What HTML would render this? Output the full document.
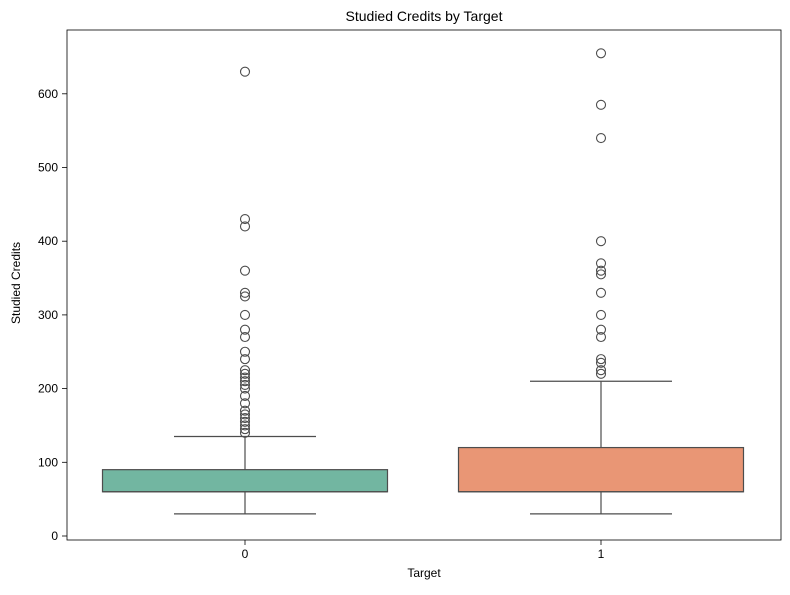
<!DOCTYPE html>
<html><head><meta charset="utf-8"><style>
body{margin:0;background:#fff;font-family:"Liberation Sans","DejaVu Sans",sans-serif}
</style></head><body>
<svg id="chart" width="790" height="590" xmlns="http://www.w3.org/2000/svg">
<text x="424" y="21" text-anchor="middle" font-size="14">Studied Credits by Target</text>
<text x="424" y="577" text-anchor="middle" font-size="12">Target</text>
<text transform="translate(20,283) rotate(-90)" text-anchor="middle" font-size="12">Studied Credits</text>
<rect x="67" y="30" width="714" height="510" fill="none" stroke="#000" stroke-width="0.8"/>
<g id="marks"></g>
</svg>
<script>
const categories=["0","1"];
const colors=["#72b6a1","#e99675"];
const q1=[60,60];
const medians=[60,60];
const q3=[90,120];
const whiskLow=[30,30];
const whiskHigh=[135,210];
const outliers0=[630,430,420,360,330,325,300,280,270,250,240,225,220,215,210,205,200,190,180,170,165,160,155,150,145,140];
const outliers1=[655,585,540,400,370,360,355,330,300,280,270,240,235,225,220];
const outliers=[outliers0,outliers1];
const yTicks=[0,100,200,300,400,500,600];

const NS="http://www.w3.org/2000/svg";
const g=document.getElementById('marks');
function y(v){return 536-0.737*v;}
function xc(i){return 245+i*356;}
const halfW=142.5;
function mk(tag,attrs,parent){const e=document.createElementNS(NS,tag);for(const k in attrs)e.setAttribute(k,attrs[k]);(parent||g).appendChild(e);return e;}
yTicks.forEach(t=>{
  const l=mk('line',{x1:62,x2:67,y1:y(t),y2:y(t),stroke:'#000','stroke-width':0.8});
  
  
  const tx=mk('text',{x:58,y:y(t)+4,'text-anchor':'end','font-size':12});
  tx.textContent=t;
  
  
});
categories.forEach((c,i)=>{
  const cx=xc(i);
  const l=mk('line',{x1:cx,x2:cx,y1:540,y2:545,stroke:'#000','stroke-width':0.8});
  
  
  const tx=mk('text',{x:cx,y:558,'text-anchor':'middle','font-size':12});
  tx.textContent=c;
  
  
  const st={stroke:'#4d4d4d','stroke-width':1.2};
  const w1=mk('line',Object.assign({x1:cx,x2:cx,y1:y(whiskLow[i]),y2:y(q1[i])},st));
  
  
  const w2=mk('line',Object.assign({x1:cx,x2:cx,y1:y(q3[i]),y2:y(whiskHigh[i])},st));
  
  
  const c1=mk('line',Object.assign({x1:cx-71,x2:cx+71,y1:y(whiskLow[i]),y2:y(whiskLow[i])},st));
  
  
  const c2=mk('line',Object.assign({x1:cx-71,x2:cx+71,y1:y(whiskHigh[i]),y2:y(whiskHigh[i])},st));
  
  
  const b=mk('rect',Object.assign({x:cx-halfW,y:y(q3[i]),width:2*halfW,height:y(q1[i])-y(q3[i]),fill:colors[i]},st));
  
  
  const m=mk('line',Object.assign({x1:cx-halfW,x2:cx+halfW,y1:y(medians[i]),y2:y(medians[i])},st));
  
  
  outliers[i].forEach(v=>{
    const o=mk('circle',{cx:cx,cy:y(v),r:4.5,fill:'none',stroke:'#4d4d4d','stroke-width':1.1});
    
    
  });
});
</script>
</body></html>
